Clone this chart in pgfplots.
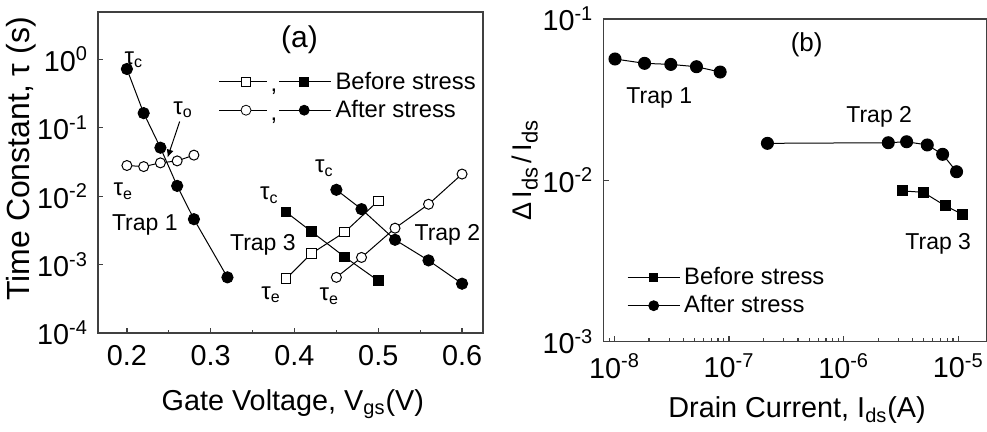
\documentclass[border=0pt]{standalone}
\usepackage{fontspec}
\setmainfont{Liberation Sans}
\usepackage{pgfplots}
\pgfplotsset{compat=1.18}
\usetikzlibrary{arrows.meta}

\newcommand{\tickfont}{\fontsize{14.4}{16}\selectfont}
\newcommand{\legfont}{\fontsize{11.9}{13}\selectfont}
\newcommand{\lab}{\fontsize{12}{14}\selectfont}
\newcommand{\trapfont}{\fontsize{11.5}{13}\selectfont}

\pgfplotsset{
  panel/.style={
    scale only axis,
    axis line style={black!75, line width=0.6pt},
    tick style={black!75, line width=0.6pt},
    tick align=inside, tick pos=left,
    major tick length=2.6pt, minor tick length=1.6pt,
    xticklabel style={font=\tickfont, yshift=-2.5pt},
    yticklabel style={font=\tickfont, xshift=-1.5pt},
    xlabel style={font=\fontsize{14.4}{16}\selectfont},
    legend cell align=left,
  },
  fc/.style={black, line width=0.5pt, mark=*, mark size=2.8pt, mark options={fill=black, solid}},
  oc/.style={black, line width=0.5pt, mark=*, mark size=2.5pt, mark options={fill=white, solid}},
  fs/.style={black, line width=0.5pt, mark=square*, mark size=2.4pt, mark options={fill=black, solid}},
  os/.style={black, line width=0.5pt, mark=square*, mark size=2.4pt, mark options={fill=white, solid}},
}

\begin{document}
\begin{tikzpicture}
\useasboundingbox (0pt,0pt) rectangle (493.5pt,216pt);

% ---------- panel (a)
\begin{axis}[panel, at={(49pt,49.5pt)}, anchor=south west,
  width=192.5pt, height=160.5pt,
  /pgf/number format/assume math mode=true,
  xmin=0.1655, xmax=0.625, ymode=log, log basis y=10,
  ymin=1e-4, ymax=4.9,
  xtick={0.2,0.3,0.4,0.5,0.6}, minor x tick num=1,
  ytick={1e-4,1e-3,1e-2,1e-1,1}, yminorticks=false,
  yticklabel={10\textsuperscript{\pgfmathparse{int(round(\tick))}\pgfmathresult}},
  xlabel={Gate Voltage, V\textsubscript{gs}(V)},
  ylabel={Time Constant, τ (s)},
  xlabel style={at={(axis description cs:0.506,-0.242)}, anchor=base},
  ylabel style={at={(axis description cs:-0.2,0.542)}, anchor=center, font=\fontsize{16}{18}\selectfont},
  legend style={draw=none, fill=none, inner sep=0pt, row sep=0pt, nodes={font=\legfont},
    at={(axis description cs:0.312,0.738)}, anchor=west},
]
\addlegendimage{legend image code/.code={
  \draw[black, line width=0.5pt] (0pt,0pt) -- (24pt,0pt);
  \draw plot[mark=square*, mark size=2.2pt, mark options={fill=white, draw=black}] coordinates {(13.5pt,0pt)};
  \node[anchor=base, inner sep=0pt, font=\legfont] at (27.5pt,-5pt) {,};
  \draw[black, line width=0.5pt] (30pt,0pt) -- (56pt,0pt);
  \draw plot[mark=square*, mark size=2.2pt, mark options={fill=black, draw=black}] coordinates {(42.6pt,0pt)};
}}
\addlegendentry{\legfont Before stress}
\addlegendimage{legend image code/.code={
  \draw[black, line width=0.5pt] (0pt,0pt) -- (24pt,0pt);
  \draw plot[mark=*, mark size=2.5pt, mark options={fill=white, draw=black}] coordinates {(13.5pt,0pt)};
  \node[anchor=base, inner sep=0pt, font=\legfont] at (27.5pt,-5pt) {,};
  \draw[black, line width=0.5pt] (30pt,0pt) -- (56pt,0pt);
  \draw plot[mark=*, mark size=2.5pt, mark options={fill=black, draw=black}] coordinates {(42.6pt,0pt)};
}}
\addlegendentry{\legfont After stress}

% Trap 1
\addplot[fc, forget plot] coordinates {(0.20,0.72) (0.22,0.163) (0.24,0.051) (0.26,0.0141) (0.28,0.0046) (0.32,6.5e-4)};
\addplot[oc, forget plot] coordinates {(0.20,0.028) (0.22,0.027) (0.24,0.0306) (0.26,0.0327) (0.28,0.0397)};
% Trap 3
\addplot[fs, forget plot] coordinates {(0.39,0.00584) (0.42,0.00305) (0.46,0.00129) (0.50,5.8e-4)};
\addplot[os, forget plot] coordinates {(0.39,6.2e-4) (0.42,0.00144) (0.46,0.00298) (0.50,0.00853)};
% Trap 2
\addplot[fc, forget plot] coordinates {(0.45,0.01236) (0.48,0.00645) (0.52,0.0023) (0.56,0.00115) (0.60,5.25e-4)};
\addplot[oc, forget plot] coordinates {(0.45,6.5e-4) (0.48,0.00127) (0.52,0.0034) (0.56,0.0076) (0.60,0.021)};

\draw[black, line width=0.5pt, -{Latex[length=4pt, width=3.5pt]}] (axis cs:0.263,0.123) -- (axis cs:0.2485,0.0366);
\node[font=\lab] at (axis cs:0.2083,0.98) {τ\textsubscript{c}};
\node[font=\lab] at (axis cs:0.267,0.182) {τ\textsubscript{o}};
\node[font=\lab] at (axis cs:0.1956,0.0117) {τ\textsubscript{e}};
\node[font=\lab] at (axis cs:0.370,0.0104) {τ\textsubscript{c}};
\node[font=\lab] at (axis cs:0.372,3.6e-4) {τ\textsubscript{e}};
\node[font=\lab] at (axis cs:0.4357,0.0256) {τ\textsubscript{c}};
\node[font=\lab] at (axis cs:0.4417,3.42e-4) {τ\textsubscript{e}};
\node[font=\trapfont] at (axis cs:0.2214,0.0038) {Trap 1};
\node[font=\trapfont] at (axis cs:0.3623,0.00195) {Trap 3};
\node[font=\trapfont] at (axis cs:0.5825,0.0027) {Trap 2};
\node[font=\fontsize{15}{17}\selectfont] at (axis cs:0.406,1.91) {(a)};
\end{axis}

% ---------- panel (b)
\begin{axis}[panel, at={(301.7pt,45.2pt)}, anchor=south west,
  width=191.8pt, height=161.3pt,
  xmode=log, ymode=log, log basis x=10, log basis y=10,
  xmin=8.0e-9, xmax=1.78e-5, ymin=1e-3, ymax=1e-1,
  xtick={1e-8,1e-7,1e-6,1e-5},
  minor xtick={9e-9,2e-8,3e-8,4e-8,5e-8,6e-8,7e-8,8e-8,9e-8,2e-7,3e-7,4e-7,5e-7,6e-7,7e-7,8e-7,9e-7,2e-6,3e-6,4e-6,5e-6,6e-6,7e-6,8e-6,9e-6},
  ytick={1e-3,1e-2,1e-1}, yminorticks=false,
  xticklabel={10\textsuperscript{\pgfmathparse{int(round(\tick))}\pgfmathresult}},
  yticklabel={10\textsuperscript{\pgfmathparse{int(round(\tick))}\pgfmathresult}},
  xlabel={Drain Current, I\textsubscript{ds}(A)},
  ylabel={Δ\,I\raisebox{-0.45ex}{\fontsize{11}{12}\selectfont ds}\,/\,I\raisebox{-0.45ex}{\fontsize{11}{12}\selectfont ds}},
  xlabel style={at={(axis description cs:0.505,-0.236)}, anchor=base},
  ylabel style={at={(axis description cs:-0.205,0.53)}, anchor=center, font=\fontsize{13.5}{15}\selectfont},
  legend style={draw=none, fill=none, inner sep=0pt, row sep=0pt, nodes={font=\legfont},
    at={(axis description cs:0.061,0.155)}, anchor=west},
]
\addlegendimage{legend image code/.code={
  \draw[black, line width=0.5pt] (0pt,0pt) -- (26pt,0pt);
  \draw plot[mark=square*, mark size=2.1pt, mark options={fill=black, draw=black}] coordinates {(13pt,0pt)};
}}
\addlegendentry{\legfont Before stress}
\addlegendimage{legend image code/.code={
  \draw[black, line width=0.5pt] (0pt,0pt) -- (26pt,0pt);
  \draw plot[mark=*, mark size=2.5pt, mark options={fill=black, draw=black}] coordinates {(13pt,0pt)};
}}
\addlegendentry{\legfont After stress}

\addplot[fc, mark size=3pt, forget plot] coordinates {(1.01e-8,0.0565) (1.83e-8,0.0531) (3.1e-8,0.0523) (5.19e-8,0.0506) (8.36e-8,0.0469)};
\addplot[fc, mark size=3pt, forget plot] coordinates {(2.16e-7,0.01695) (2.45e-6,0.0171) (3.54e-6,0.01734) (5.36e-6,0.01656) (7.3e-6,0.01449) (9.66e-6,0.0113)};
\addplot[fs, mark size=2.5pt, forget plot] coordinates {(3.27e-6,0.00859) (4.94e-6,0.00843) (7.75e-6,0.00693) (1.089e-5,0.00615)};

\node[font=\fontsize{13}{15}\selectfont] at (axis cs:4.75e-7,0.069) {(b)};
\node[font=\trapfont] at (axis cs:2.46e-8,0.0325) {Trap 1};
\node[font=\trapfont] at (axis cs:2.04e-6,0.0246) {Trap 2};
\node[font=\trapfont] at (axis cs:6.68e-6,0.00406) {Trap 3};
\end{axis}
\end{tikzpicture}
\end{document}
